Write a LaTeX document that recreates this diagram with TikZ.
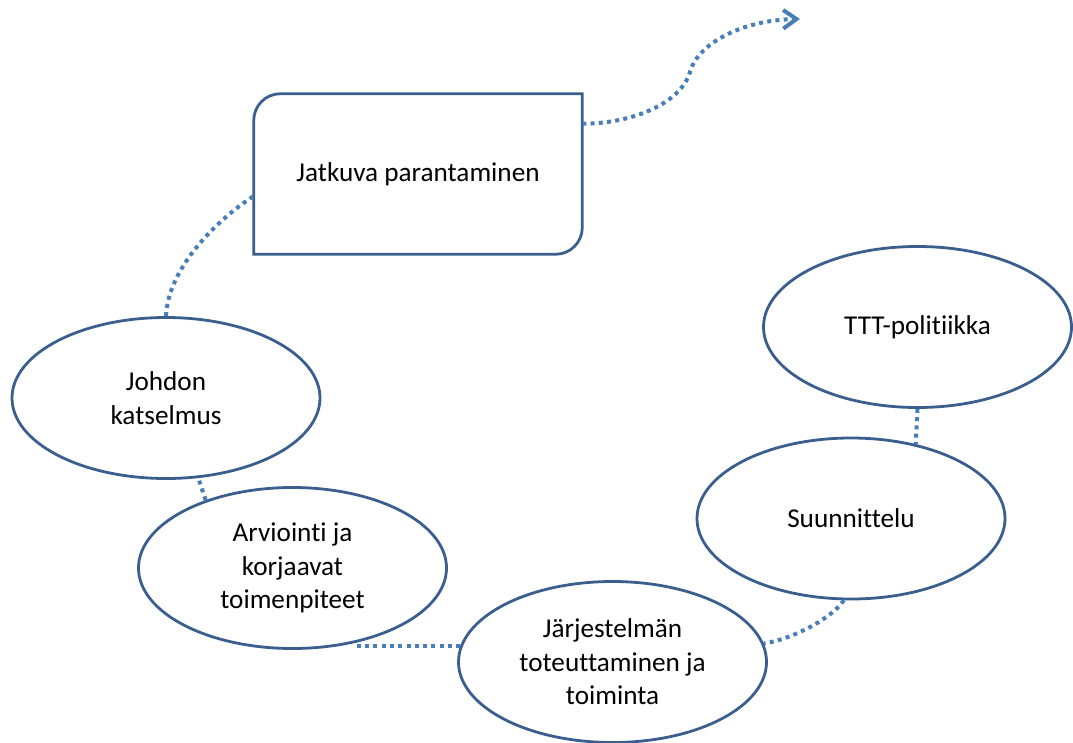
\documentclass[tikz,border=0pt]{standalone}
\usepackage{fontspec}
\setmainfont{Carlito}[Ligatures={NoCommon}]
\usetikzlibrary{shapes.geometric,arrows.meta}
\definecolor{outl}{HTML}{3A5F8E}
\definecolor{conn}{HTML}{4A7EBB}
\tikzset{
  oval/.style={ellipse, draw=outl, line width=2.1pt, minimum width=231pt, minimum height=120.75pt, inner sep=0pt, align=center, font=\fontsize{20.4}{25.1}\selectfont},
  boxnode/.style={rectangle, minimum width=246pt, minimum height=120pt, inner sep=0pt, align=center, font=\fontsize{20.4}{25.1}\selectfont},
  outline/.style={draw=outl, line width=2.1pt},
  link/.style={draw=conn, line width=3pt, dash pattern=on 3pt off 3.2pt}
}
\begin{document}
\begin{tikzpicture}[x=0.75pt, y=-0.75pt]
\useasboundingbox (0,0) rectangle (1073,742);
% nodes
\node[boxnode] (rect) at (418,174) {Jatkuva parantaminen};
\draw[outline] (rect.north east) -- ([yshift=20pt]rect.south east)
  arc[start angle=0, end angle=-90, radius=20pt] -- (rect.south west)
  -- ([yshift=-20pt]rect.north west) arc[start angle=180, end angle=90, radius=20pt] -- cycle;
\node[oval] (ttt) at (917.5,327) {TTT-politiikka};
\node[oval] (suun) at (851,518.5) {Suunnittelu};
\node[oval] (jarj) at (612.5,662) {Järjestelmän\\toteuttaminen ja\\toiminta};
\node[oval] (arv) at (292.5,568) {Arviointi ja\\korjaavat\\toimenpiteet};
\node[oval] (joh) at (166,398) {Johdon\\katselmus};
\coordinate (arrowend) at (800,19);
% connectors
\draw[link] (ttt.south) -- (suun.49);
\draw[link] (suun.265) .. controls +(-12,18) and +(28,-4) .. (jarj.7);
\draw[link] (jarj.174) -- (arv.-51 |- jarj.174);
\draw[link] (arv.142) -- (joh.-68);
\draw[link] (joh.north) .. controls +(2,-48) and +(-37,24) .. ([yshift=-16.5pt]rect.west);
\draw[link, -{Straight Barb[length=10pt, width=14pt]}] ([yshift=-22.5pt]rect.north east)
  .. controls +(47,0) and +(-10,33) .. (690,72)
  .. controls +(7,-27) and +(-60,1) .. (arrowend);
\end{tikzpicture}
\end{document}
